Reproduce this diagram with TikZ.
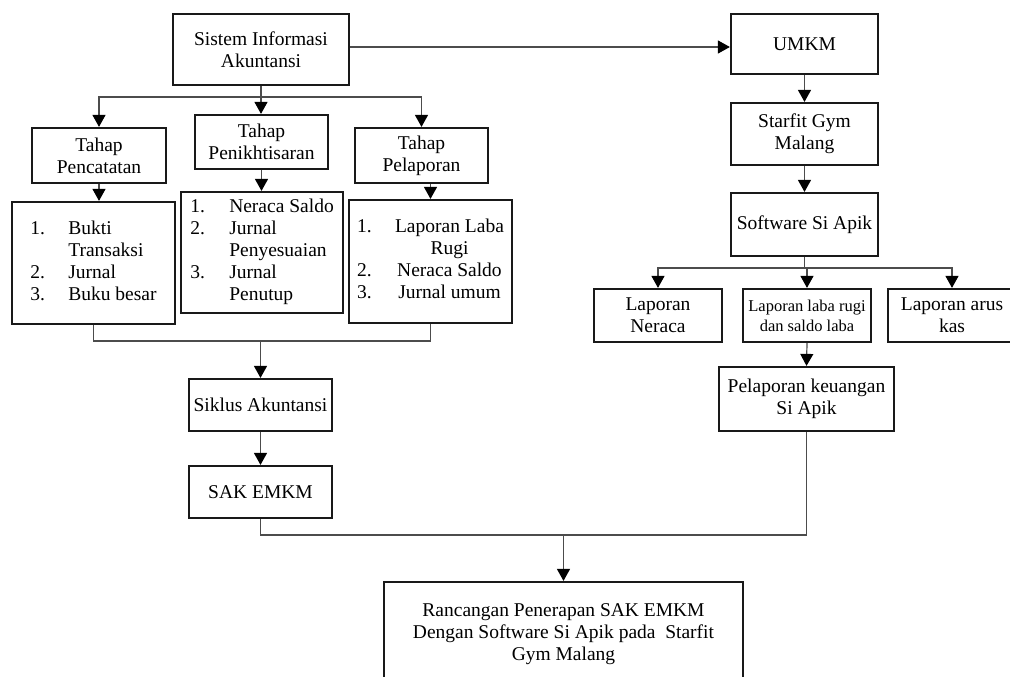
\documentclass[tikz,border=0pt]{standalone}
\usepackage{fontspec}
\setmainfont{Liberation Serif}
\usetikzlibrary{arrows.meta,calc}
\begin{document}
\begin{tikzpicture}[x=1pt,y=-1pt,
  box/.style={draw=black!90,line width=2.2pt,inner sep=2pt,align=center,font=\fontsize{19.5}{22}\selectfont},
  conn/.style={draw=black!70,line width=1.2pt},
  arr/.style={conn,-{Triangle[width=13pt,length=12pt,color=black]}},
]
\useasboundingbox (0,0) rectangle (1010,677);
\clip (0,0) rectangle (1010,677);

% left column
\node[box,minimum width=176pt,minimum height=71pt] (sia) at (261,49.5) {Sistem Informasi\\Akuntansi};
\node[box,minimum width=134pt,minimum height=55pt] (pencatatan) at (99,155.5) {Tahap\\Pencatatan};
\node[box,minimum width=133pt,minimum height=54pt] (penikh) at (261.5,142) {Tahap\\Penikhtisaran};
\node[box,minimum width=133pt,minimum height=55pt] (pelaporan) at (421.5,155.5) {Tahap\\Pelaporan};

\node[box,minimum width=163pt,minimum height=122pt] (list1) at (93.5,263)
  {\begin{tabular}{@{}p{38pt}@{}l@{}}1.&Bukti\\&Transaksi\\2.&Jurnal\\3.&Buku besar\end{tabular}};
\node[box,minimum width=162pt,minimum height=121pt] (list2) at (262,252.5)
  {\begin{tabular}{@{}p{39pt}@{}l@{}}1.&Neraca Saldo\\2.&Jurnal\\&Penyesuaian\\3.&Jurnal\\&Penutup\end{tabular}};
\node[box,minimum width=163pt,minimum height=123pt] (list3) at (430.5,261.5)
  {\begin{tabular}{@{}p{38pt}@{}c@{}}1.&Laporan Laba\\&Rugi\\2.&Neraca Saldo\\3.&Jurnal umum\end{tabular}};

\node[box,minimum width=143pt,minimum height=52pt] (siklus) at (260.5,405) {Siklus Akuntansi};
\node[box,minimum width=143pt,minimum height=52pt] (sak) at (260.5,492) {SAK EMKM};

% right column
\node[box,minimum width=147pt,minimum height=60pt] (umkm) at (804.5,44) {UMKM};
\node[box,minimum width=147pt,minimum height=62pt] (starfit) at (804.5,134) {Starfit Gym\\Malang};
\node[box,minimum width=147pt,minimum height=63pt] (software) at (804.5,224.5) {Software Si Apik};
\node[box,minimum width=128pt,minimum height=53pt] (neraca) at (658,315.5) {Laporan\\Neraca};
\node[box,minimum width=128pt,minimum height=53pt,font=\fontsize{16.5}{20}\selectfont] (labarugi) at (807,315.5) {Laporan laba rugi\\dan saldo laba};
\node[box,minimum width=128pt,minimum height=53pt] (aruskas) at (952,315.5) {Laporan arus\\kas};
\node[box,minimum width=175pt,minimum height=64pt] (pelapkeu) at (806.5,399) {Pelaporan keuangan\\Si Apik};

% final
\node[box,minimum width=359pt,minimum height=104pt] (final) at (563.5,634)
  {Rancangan Penerapan SAK EMKM\\Dengan Software Si Apik pada\ \ Starfit\\Gym Malang};

% connectors
\draw[arr] ([yshift=2.5pt]sia.east) -- ([yshift=2.5pt]sia.east -| umkm.west);

\coordinate (b1) at (261,97);
\draw[arr] (sia.south) -- (sia.south |- penikh.north);
\draw[arr] (b1) -| (pencatatan.north);
\draw[arr] (b1) -| (pelaporan.north);

\draw[arr] (pencatatan.south) -- (pencatatan.south |- list1.north);
\draw[arr] (penikh.south) -- (penikh.south |- list2.north);
\draw[arr] (list3.north |- pelaporan.south) -- (list3.north);

\coordinate (b2) at (261,341);
\draw[conn] (list1.south) |- (b2) -| (list3.south);
\draw[arr] (siklus.north |- b2) -- (siklus.north);
\draw[arr] (siklus.south) -- (sak.north);

\coordinate (b3) at (563.5,535);
\draw[conn] (sak.south) |- (b3) -| (pelapkeu.south);
\draw[arr] (b3) -- (final.north);

\draw[arr] (umkm.south) -- (starfit.north);
\draw[arr] (starfit.south) -- (software.north);

\coordinate (b4) at (804.5,268);
\draw[conn] (software.south) -- (b4);
\draw[arr] (b4) -| (neraca.north);
\draw[arr] (b4) -| (aruskas.north);
\draw[arr] (labarugi.north |- b4) -- (labarugi.north);
\draw[arr] (labarugi.south) -- (pelapkeu.north);
\end{tikzpicture}
\end{document}
